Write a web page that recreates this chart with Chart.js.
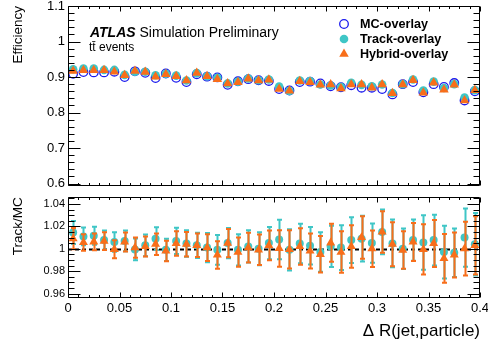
<!DOCTYPE html>
<html><head><meta charset="utf-8">
<script src="https://cdn.jsdelivr.net/npm/chart.js@4.4.0/dist/chart.umd.min.js"></script>
<style>
html,body{margin:0;padding:0;background:#fff;}
#wrap{position:relative;width:488px;height:350px;overflow:hidden;font-family:"Liberation Sans",Arial,sans-serif;}
#c1{position:absolute;left:0;top:0;}
#c2{position:absolute;left:0;top:192px;}
.lbl{position:absolute;white-space:nowrap;color:#000;line-height:1;}
</style></head><body>
<div id="wrap">
<canvas id="c1" width="488" height="192"></canvas>
<canvas id="c2" width="488" height="158"></canvas>
<div class="lbl" style="left:90px;top:25px;font-size:14px;"><b><i>ATLAS</i></b> Simulation Preliminary</div>
<div class="lbl" style="left:89px;top:41px;font-size:12px;">tt̄ events</div>
</div>
<script>
// ---- data ----
const binCenters = [0.005,0.015,0.025,0.035,0.045,0.055,0.065,0.075,0.085,0.095,
  0.105,0.115,0.125,0.135,0.145,0.155,0.165,0.175,0.185,0.195,
  0.205,0.215,0.225,0.235,0.245,0.255,0.265,0.275,0.285,0.295,
  0.305,0.315,0.325,0.335,0.345,0.355,0.365,0.375,0.385,0.395];
const effMC = [0.909,0.914,0.913,0.913,0.915,0.900,0.916,0.912,0.897,0.910,
  0.898,0.886,0.908,0.901,0.899,0.878,0.888,0.894,0.891,0.889,
  0.866,0.862,0.886,0.887,0.882,0.874,0.871,0.877,0.870,0.870,
  0.866,0.851,0.880,0.886,0.857,0.880,0.872,0.883,0.834,0.860];
const effTrack = [0.922,0.924,0.924,0.920,0.920,0.906,0.915,0.915,0.905,0.909,
  0.904,0.890,0.911,0.902,0.898,0.882,0.887,0.896,0.891,0.893,
  0.873,0.861,0.890,0.889,0.879,0.876,0.872,0.884,0.878,0.874,
  0.879,0.855,0.880,0.893,0.862,0.887,0.869,0.880,0.842,0.863];
const effHybrid = [0.917,0.919,0.919,0.919,0.915,0.905,0.917,0.914,0.901,0.908,
  0.902,0.890,0.911,0.902,0.894,0.882,0.885,0.895,0.890,0.892,
  0.866,0.861,0.888,0.885,0.878,0.879,0.868,0.879,0.879,0.870,
  0.879,0.854,0.879,0.891,0.856,0.884,0.864,0.878,0.834,0.863];
const ratioTrack = [1.0145,1.011,1.0116,1.0077,1.006,1.007,0.9994,1.003,1.009,0.999,
  1.007,1.0047,1.003,1.001,0.999,1.005,0.999,1.002,1.000,1.005,
  1.0083,0.999,1.0047,1.0027,0.997,1.002,1.001,1.0077,1.009,1.005,
  1.015,1.0047,1.000,1.0077,1.0056,1.0077,0.997,0.9964,1.010,1.004];
const ratioHybrid = [1.009,1.0056,1.0062,1.0068,0.9995,1.006,1.001,1.002,1.004,0.998,
  1.0047,1.004,1.003,1.001,0.9944,1.005,0.997,1.001,0.999,1.003,
  1.0003,0.9994,1.002,0.998,0.995,1.0053,0.997,1.002,1.010,1.000,
  1.015,1.004,0.9988,1.006,0.9994,1.0047,0.9914,0.9944,1.000,1.003];
const errTrack = [0.0102,0.008,0.0081,0.0086,0.0086,0.0092,0.0097,0.0097,0.0102,0.0099,
  0.0118,0.0118,0.0113,0.013,0.0133,0.0136,0.014,0.0144,0.0147,0.0144,
  0.0176,0.0184,0.0176,0.0168,0.0176,0.0184,0.02,0.0205,0.0205,0.0176,
  0.02,0.0213,0.018,0.0184,0.0243,0.0227,0.0235,0.0216,0.026,0.028];
const errHybrid = [0.0095,0.0074,0.0075,0.008,0.008,0.0085,0.009,0.009,0.0095,0.0092,
  0.011,0.011,0.0105,0.012,0.0123,0.0126,0.013,0.0133,0.0136,0.0133,
  0.0163,0.017,0.0163,0.0156,0.0163,0.017,0.0185,0.019,0.019,0.0163,
  0.0185,0.0197,0.0167,0.017,0.0225,0.021,0.0218,0.02,0.024,0.026];
const seriesNames = ['MC-overlay','Track-overlay','Hybrid-overlay'];
const xTicks = [0,0.05,0.1,0.15,0.2,0.25,0.3,0.35,0.4];
const xTickLabels = ['0','0.05','0.1','0.15','0.2','0.25','0.3','0.35','0.4'];
const effTicks = [0.6,0.7,0.8,0.9,1.0,1.1];
const effTickLabels = ['0.6','0.7','0.8','0.9','1','1.1'];
const ratioTicks = [0.96,0.98,1.0,1.02,1.04];
const ratioTickLabels = ['0.96','0.98','1','1.02','1.04'];

// ---- style ----
const FONT = '"Liberation Sans", Arial, sans-serif';
const BLUE = '#1a1aee', TEAL = '#3fc6c6', ORANGE = '#f86e1a';
const pts = (ys) => binCenters.map((x, i) => ({x, y: ys[i]}));
const noPad = s => { s.paddingTop = 0; s.paddingBottom = 0; s.paddingLeft = 0; s.paddingRight = 0; };

function tickPlugin(opts) {
  return {
    id: 'frameTicks',
    afterDraw(chart) {
      const ctx = chart.ctx, xs = chart.scales.x, ys = chart.scales.y;
      const a = chart.chartArea;
      ctx.save();
      ctx.strokeStyle = '#000'; ctx.lineWidth = 1;
      ctx.beginPath();
      const L = Math.round(a.left) + 0.5, R = Math.round(a.right) - 0.5;
      const T = Math.round(a.top) + 0.5, B = Math.round(a.bottom) - 0.5;
      ctx.rect(L, T, R - L, B - T);
      for (let v = opts.yMinorStart; v <= ys.max + 1e-9; v += opts.yMinor) {
        const p = Math.round(ys.getPixelForValue(v)) + 0.5;
        if (p < T || p > B) continue;
        const major = opts.yMajors.some(m => Math.abs(m - v) < 1e-6);
        const len = major ? opts.yMajorLen : opts.yMajorLen / 2;
        ctx.moveTo(L, p); ctx.lineTo(L + len, p);
        ctx.moveTo(R, p); ctx.lineTo(R - len, p);
      }
      for (let v = xs.min; v <= xs.max + 1e-9; v += opts.xMinor) {
        const p = Math.round(xs.getPixelForValue(v)) + 0.5;
        const major = xTicks.some(m => Math.abs(m - v) < 1e-6);
        const len = major ? opts.xMajorLen : opts.xMajorLen / 2;
        ctx.moveTo(p, B); ctx.lineTo(p, B - len);
        ctx.moveTo(p, T); ctx.lineTo(p, T + len);
      }
      ctx.stroke();
      ctx.restore();
    }
  };
}

const legendPlugin = {
  id: 'innerLegend',
  afterDraw(chart) {
    const ctx = chart.ctx;
    const mx = 344, tx = 360, rows = [24, 39, 54];
    ctx.save();
    ctx.beginPath(); ctx.arc(mx, rows[0], 4.3, 0, 2 * Math.PI);
    ctx.strokeStyle = BLUE; ctx.lineWidth = 1.3; ctx.stroke();
    ctx.beginPath(); ctx.arc(mx, rows[1], 4.3, 0, 2 * Math.PI);
    ctx.fillStyle = TEAL; ctx.fill();
    const r = 5.5;
    ctx.beginPath();
    ctx.moveTo(mx, rows[2] - r);
    ctx.lineTo(mx + r * 0.866, rows[2] + r * 0.5);
    ctx.lineTo(mx - r * 0.866, rows[2] + r * 0.5);
    ctx.closePath(); ctx.fillStyle = ORANGE; ctx.fill();
    ctx.fillStyle = '#000';
    ctx.font = 'bold 12.6px ' + FONT;
    ctx.textBaseline = 'middle'; ctx.textAlign = 'left';
    seriesNames.forEach((n, i) => ctx.fillText(n, tx, rows[i] + 0.5));
    ctx.restore();
  }
};

const errPlugin = {
  id: 'errBars',
  beforeDatasetsDraw(chart) {
    const ctx = chart.ctx, xs = chart.scales.x, ys = chart.scales.y;
    const y1 = Math.round(ys.getPixelForValue(1)) + 0.5;
    ctx.save();
    ctx.strokeStyle = '#000'; ctx.lineWidth = 2; ctx.setLineDash([4, 3]);
    ctx.beginPath(); ctx.moveTo(xs.left, y1); ctx.lineTo(xs.right, y1); ctx.stroke();
    ctx.restore();
  },
  beforeDatasetDraw(chart, args) {
    const ds = chart.data.datasets[args.index];
    if (!ds.errors) return;
    const ctx = chart.ctx, xs = chart.scales.x, ys = chart.scales.y;
    ctx.save();
    ctx.strokeStyle = ds.errColor; ctx.lineWidth = 2;
    ctx.beginPath();
    ds.data.forEach((p, i) => {
      const e = ds.errors[i];
      const px = Math.round(xs.getPixelForValue(p.x)) + 0.5;
      const yt = ys.getPixelForValue(p.y + e), yb = ys.getPixelForValue(p.y - e);
      ctx.moveTo(px, yt); ctx.lineTo(px, yb);
      ctx.moveTo(px - 2.5, yt); ctx.lineTo(px + 2.5, yt);
      ctx.moveTo(px - 2.5, yb); ctx.lineTo(px + 2.5, yb);
    });
    ctx.stroke();
    ctx.restore();
  }
};

Chart.defaults.font.family = FONT;
Chart.defaults.color = '#000';

new Chart(document.getElementById('c1'), {
  type: 'scatter',
  data: { datasets: [
    { label: seriesNames[0], data: pts(effMC), order: 2, pointStyle: 'circle', pointRadius: 4.3,
      pointBackgroundColor: 'rgba(0,0,0,0)', pointBorderColor: BLUE, pointBorderWidth: 1.3 },
    { label: seriesNames[1], data: pts(effTrack), order: 1, pointStyle: 'circle', pointRadius: 4.3,
      pointBackgroundColor: TEAL, pointBorderColor: TEAL, pointBorderWidth: 0 },
    { label: seriesNames[2], data: pts(effHybrid), order: 0, pointStyle: 'triangle', pointRadius: 5.5,
      pointBackgroundColor: ORANGE, pointBorderColor: ORANGE, pointBorderWidth: 0 }
  ]},
  options: {
    responsive: false, animation: false, events: [],
    layout: { padding: { top: 6, right: 8, bottom: 2, left: 0 } },
    plugins: { legend: { display: false }, tooltip: { enabled: false } },
    scales: {
      x: { type: 'linear', min: 0, max: 0.4, display: false },
      y: { type: 'linear', min: 0.592, max: 1.1,
        afterBuildTicks: s => { s.ticks = effTicks.map(v => ({ value: v })); },
        afterFit: s => { s.width = 68; noPad(s); },
        grid: { display: false, drawTicks: false },
        border: { display: false },
        ticks: { padding: 3, font: { size: 13 }, callback: (v) => effTickLabels[effTicks.findIndex(t => Math.abs(t - v) < 1e-6)] },
        title: { display: true, text: 'Efficiency', align: 'end', font: { size: 13.5 }, padding: { top: 10, bottom: 0 } }
      }
    }
  },
  plugins: [tickPlugin({ yMinorStart: 0.6, yMinor: 0.02, yMajors: effTicks, yMajorLen: 12, xMinor: 0.01, xMajorLen: 5 }), legendPlugin]
});

new Chart(document.getElementById('c2'), {
  type: 'scatter',
  data: { datasets: [
    { label: seriesNames[1], data: pts(ratioTrack), errors: errTrack, errColor: TEAL, order: 1,
      pointStyle: 'circle', pointRadius: 4, pointBackgroundColor: TEAL, pointBorderColor: TEAL, pointBorderWidth: 0 },
    { label: seriesNames[2], data: pts(ratioHybrid), errors: errHybrid, errColor: ORANGE, order: 0,
      pointStyle: 'triangle', pointRadius: 5.2, pointBackgroundColor: ORANGE, pointBorderColor: ORANGE, pointBorderWidth: 0 }
  ]},
  options: {
    responsive: false, animation: false, events: [],
    layout: { padding: { top: 5, right: 8, bottom: 0, left: 0 } },
    plugins: { legend: { display: false }, tooltip: { enabled: false } },
    scales: {
      x: { type: 'linear', min: 0, max: 0.4,
        afterBuildTicks: s => { s.ticks = xTicks.map(v => ({ value: v })); },
        afterFit: s => { s.height = 52; noPad(s); },
        grid: { display: false, drawTicks: false },
        border: { display: false },
        ticks: { padding: 3, maxRotation: 0, autoSkip: false, font: { size: 13 },
          callback: (v) => xTickLabels[xTicks.findIndex(t => Math.abs(t - v) < 1e-6)] },
        title: { display: true, text: 'Δ R(jet,particle)', align: 'end', font: { size: 17 }, padding: { top: 0, bottom: 8 } }
      },
      y: { type: 'linear', min: 0.956, max: 1.046,
        afterBuildTicks: s => { s.ticks = ratioTicks.map(v => ({ value: v })); },
        afterFit: s => { s.width = 68; noPad(s); },
        grid: { display: false, drawTicks: false },
        border: { display: false },
        ticks: { padding: 3, font: { size: 11 }, callback: (v) => ratioTickLabels[ratioTicks.findIndex(t => Math.abs(t - v) < 1e-6)] },
        title: { display: true, text: 'Track/MC', align: 'end', font: { size: 13.5 }, padding: { top: 10, bottom: 0 } }
      }
    }
  },
  plugins: [errPlugin, tickPlugin({ yMinorStart: 0.96, yMinor: 0.005, yMajors: ratioTicks, yMajorLen: 12, xMinor: 0.01, xMajorLen: 5 })]
});
</script>
</body></html>
